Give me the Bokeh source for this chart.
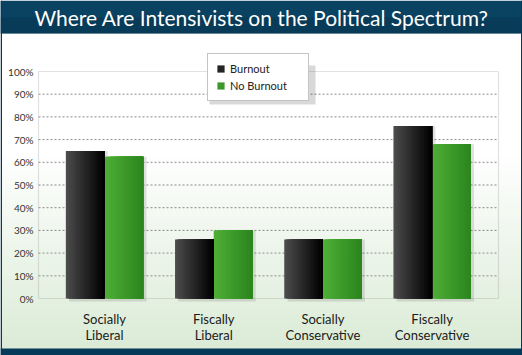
from bokeh.plotting import figure
from bokeh.models import BoxAnnotation, Label, Legend, LegendItem, ColumnDataSource, Range1d
from bokeh.transform import dodge
from bokeh.core.properties import value
from bokeh.embed import file_html
from bokeh.resources import INLINE

# ---- data ----
categories = ["Socially\nLiberal", "Fiscally\nLiberal", "Socially\nConservative", "Fiscally\nConservative"]
burnout = [65, 26, 26, 76]
no_burnout = [62.5, 30, 26, 68]
y_ticks = [0, 10, 20, 30, 40, 50, 60, 70, 80, 90, 100]
y_tick_labels = ["0%", "10%", "20%", "30%", "40%", "50%", "60%", "70%", "80%", "90%", "100%"]
series_names = ["Burnout", "No Burnout"]
title_text = "Where Are Intensivists on the Political Spectrum?"

# ---- layout constants (pixels) ----
W, H = 522, 355
PLOT_L, PLOT_R, PLOT_T, PLOT_B = 38, 498, 71, 298
CAT0_PX, CAT_STEP = 104.0, 109.2
Y_MIN, Y_MAX = 0, 100
ypx = (PLOT_B - PLOT_T) / (Y_MAX - Y_MIN)

x_start = (0 - CAT0_PX) / CAT_STEP
x_end = (W - CAT0_PX) / CAT_STEP
y_start = Y_MIN - (H - PLOT_B) / ypx
y_end = Y_MAX + PLOT_T / ypx
x_left = (PLOT_L - CAT0_PX) / CAT_STEP
x_right = (PLOT_R - CAT0_PX) / CAT_STEP

idx = list(range(len(categories)))
src = ColumnDataSource(dict(idx=idx, burnout=burnout, no_burnout=no_burnout, label=categories))

p = figure(width=W, height=H, x_range=Range1d(x_start, x_end), y_range=Range1d(y_start, y_end),
           output_backend="svg", toolbar_location=None, x_axis_type=None, y_axis_type=None,
           min_border=0, min_border_left=0, min_border_right=0, min_border_top=0, min_border_bottom=0)
p.outline_line_color = None
p.border_fill_color = "white"
p.background_fill_color = "white"
p.grid.visible = False

SU = dict(left_units="screen", right_units="screen", top_units="screen", bottom_units="screen")

# background gradient white -> pale green (screen y measured from bottom)
g_top, g_bot = H - 150, H - 348
n = 30
for i in range(n):
    t = (i + 0.5) / n
    r = int(round(255 + (219 - 255) * t))
    g = int(round(255 + (235 - 255) * t))
    b = int(round(255 + (214 - 255) * t))
    y1 = g_top - (g_top - g_bot) * i / n
    y2 = g_top - (g_top - g_bot) * (i + 1) / n - 1
    p.add_layout(BoxAnnotation(left=0, right=W, top=y1, bottom=y2, fill_color="#%02x%02x%02x" % (r, g, b),
                               fill_alpha=1, line_color=None, level="image", **SU))

# title band, bottom band, side borders
p.add_layout(BoxAnnotation(left=0, right=W, top=H, bottom=H - 33, fill_color="#0a4262", fill_alpha=1,
                           line_color=None, level="image", **SU))
p.add_layout(BoxAnnotation(left=0, right=W, top=H - 17, bottom=H - 33, fill_color="#04334e", fill_alpha=0.45,
                           line_color=None, level="image", **SU))
p.add_layout(BoxAnnotation(left=0, right=W, top=H - 348, bottom=0, fill_color="#053b58", fill_alpha=1,
                           line_color=None, level="image", **SU))
p.add_layout(BoxAnnotation(left=0, right=1.5, top=H, bottom=0, fill_color="#053b58", fill_alpha=1,
                           line_color=None, level="image", **SU))
p.add_layout(BoxAnnotation(left=W - 1.5, right=W, top=H, bottom=0, fill_color="#053b58", fill_alpha=1,
                           line_color=None, level="image", **SU))
p.add_layout(Label(x=W / 2, y=H - 17, x_units="screen", y_units="screen", text=title_text,
                   text_color="white", text_font="Lato", text_font_size="21px",
                   text_align="center", text_baseline="middle"))

# plot area frame and grid lines
grid_ticks = y_ticks[1:-1]
p.segment(x0=x_left, x1=x_right, y0=grid_ticks, y1=grid_ticks, line_color="#8c8c8c",
          line_dash="2 2", line_width=1, level="underlay")
p.add_layout(BoxAnnotation(left=x_left, right=x_right, bottom=Y_MIN, top=Y_MAX, fill_color=None,
                           line_color="#9a9a9a", line_width=1.2, level="underlay"))

# y tick labels
p.text(x=x_left, y=y_ticks, text=y_tick_labels, x_offset=-5, text_align="right", text_baseline="middle",
       text_font=value("Lato"), text_font_size="10px", text_color="#333333")
# category labels
p.text(x="idx", y=Y_MIN, text="label", source=src, y_offset=12, text_align="center", text_baseline="top",
       text_font=value("Lato"), text_font_size="13px", text_color="#1a1a1a", text_line_height=1.05)

bw = 0.354
# soft shadow behind each pair of bars
for j, a in enumerate([0.10, 0.10]):
    pass
p.vbar(x=dodge("idx", 0.03 - bw / 2, range=p.x_range), top="burnout", bottom=-1.3, width=bw,
       source=src, fill_color="#444444", fill_alpha=0.16, line_color=None)
p.vbar(x=dodge("idx", 0.03 + bw / 2, range=p.x_range), top="no_burnout", bottom=-1.3, width=bw,
       source=src, fill_color="#444444", fill_alpha=0.16, line_color=None)

# gradient bars built of thin vertical strips
ns = 24
blk0, blk1 = (76, 76, 76), (0, 0, 0)
grn0, grn1 = (78, 174, 54), (44, 134, 30)
def mix(c0, c1, t):
    return "#%02x%02x%02x" % tuple(int(round(a + (b - a) * t)) for a, b in zip(c0, c1))

r1 = r2 = None
sw = bw / ns
for k in range(ns):
    t = k / (ns - 1)
    left_edge = -bw + k * sw
    wk = bw - k * sw  # each strip runs to the bar's right edge; later strips paint over earlier ones
    rr = p.vbar(x=dodge("idx", left_edge + wk / 2, range=p.x_range), top="burnout", width=wk,
                source=src, fill_color=mix(blk0, blk1, t), line_color=None)
    gg = p.vbar(x=dodge("idx", left_edge + bw + wk / 2, range=p.x_range), top="no_burnout", width=wk,
                source=src, fill_color=mix(grn0, grn1, t), line_color=None)
    if k == ns // 2:
        r1, r2 = rr, gg

# legend shadow
p.add_layout(BoxAnnotation(left=209, right=315, top=H - 65, bottom=H - 104, fill_color="#000000",
                           fill_alpha=0.15, line_color=None, **SU))

legend = Legend(items=[LegendItem(label=series_names[0], renderers=[r1]),
                       LegendItem(label=series_names[1], renderers=[r2])],
                location=(207, H - 101), orientation="vertical")
legend.label_text_font = "Lato"
legend.label_text_font_size = "11px"
legend.label_text_color = "#222222"
legend.glyph_width = 9
legend.glyph_height = 9
legend.label_height = 11
legend.label_width = 70
legend.label_standoff = 5
legend.spacing = 4
legend.padding = 8
legend.margin = 0
legend.border_line_color = "#8a8a8a"
legend.background_fill_color = "white"
legend.background_fill_alpha = 1
p.add_layout(legend, "center")

open("out.html", "w").write(file_html(p, INLINE))
